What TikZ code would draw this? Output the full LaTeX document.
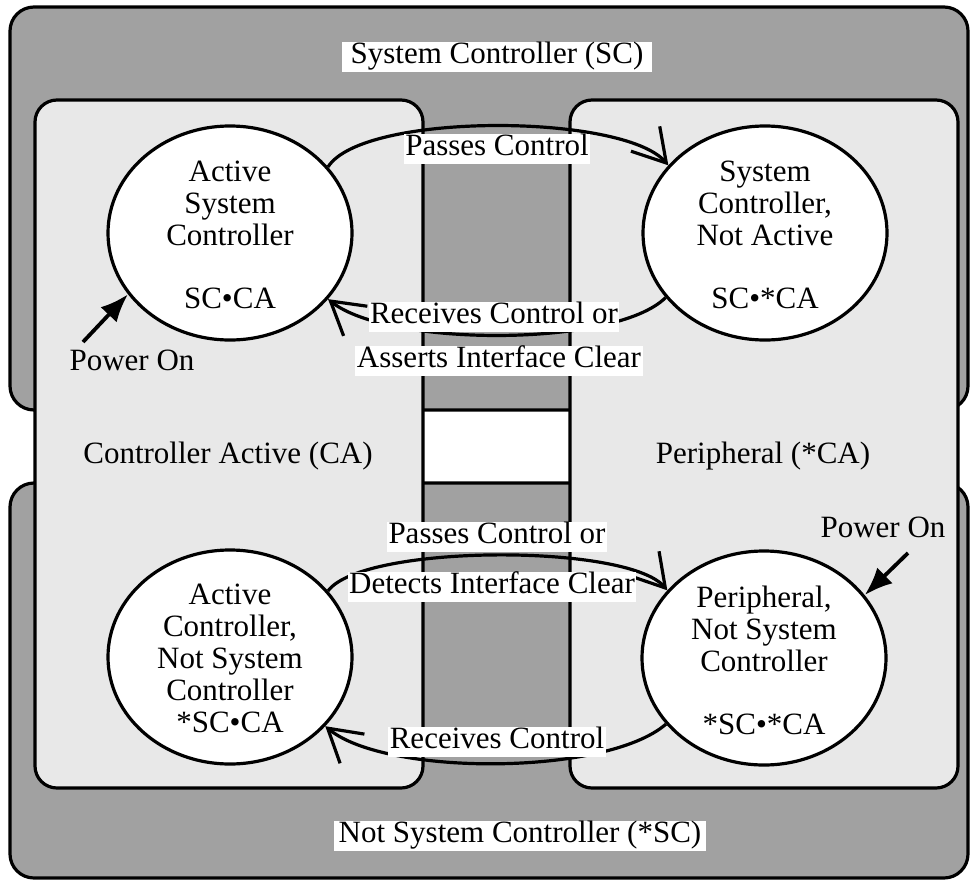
\documentclass[tikz,border=0pt]{standalone}
\usepackage{fontspec}
\setmainfont{Liberation Serif}
\usepackage{tikz}
\usetikzlibrary{shapes.geometric,arrows.meta}

\definecolor{scgray}{gray}{0.63}
\definecolor{cagray}{gray}{0.91}

\begin{document}
\begin{tikzpicture}[x=1pt,y=-1pt,font=\fontsize{31pt}{32pt}\selectfont,
  region/.style={draw,line width=3.2pt,rounded corners=24pt},
  state/.style={draw,ellipse,fill=white,line width=3.2pt,minimum width=244pt,minimum height=214pt,inner sep=0pt},
  tag/.style={fill=white,inner sep=1.5pt,text height=20pt,text depth=7pt,anchor=base},
  areatext/.style={inner sep=1.5pt,anchor=base},
  trans/.style={line width=3.2pt,-{Straight Barb[length=32pt,width=38pt]}},
  power/.style={line width=3.8pt,-{Latex[length=28pt,width=22pt]}}]
\useasboundingbox (0,0) rectangle (972,881);
%\draw[step=50,gray,very thin] (0,0) grid (972,881);

\draw[region,fill=scgray] (10,7) rectangle (968,410);
\draw[region,fill=scgray] (10,483) rectangle (968,878);
\draw[region,fill=cagray,rounded corners=22pt] (35,100) rectangle (423,788);
\draw[region,fill=cagray,rounded corners=22pt] (570,100) rectangle (958,788);

\node[state] (asc) at (230,233) {};
\node[state] (scna) at (765,233) {};
\node[state] (acnsc) at (230,657) {};
\node[state] (pnsc) at (764,658) {};

\node[align=center] (asc-txt) at (230,235) {Active\\System\\Controller\\[31pt]SC•CA};
\node[align=center] (scna-txt) at (765,235) {System\\Controller,\\Not Active\\[31pt]SC•*CA};
\node[align=center] (acnsc-txt) at (230,658) {Active\\Controller,\\Not System\\Controller\\*SC•CA};
\node[align=center] (pnsc-txt) at (764,660) {Peripheral,\\Not System\\Controller\\[31pt]*SC•*CA};

\draw[trans] (asc.34) .. controls +(35,-55) and +(-45,-52) .. (scna.145);
\draw[trans] (scna.213) .. controls +(-50,50) and +(60,48) .. (asc.326);
\draw[trans] (acnsc.34) .. controls +(35,-47) and +(-40,-47) .. (pnsc.145);
\draw[trans] (pnsc.214) .. controls +(-60,52) and +(60,50) .. (acnsc.324);

\coordinate (po-sc) at (83,342);
\coordinate (po-nsc) at (908,553);
\draw[power] (po-sc) -- (asc.211);
\draw[power] (po-nsc) -- (pnsc.32);

\node[tag,inner xsep=9pt] (sc-lbl) at (497,63) {System Controller (SC)};
\node[tag,inner xsep=5pt] (nsc-lbl) at (520,842) {Not System Controller (*SC)};
\node[areatext] (ca-lbl) at (228,463) {Controller Active (CA)};
\node[areatext] (nca-lbl) at (763,463) {Peripheral (*CA)};

\node[tag] (pc) at (497,155) {Passes Control};
\node[tag] (rc1) at (494,323) {Receives Control or};
\node[tag] (rc2) at (499,367) {Asserts Interface Clear};
\node[tag] (pco1) at (497,543) {Passes Control or};
\node[tag] (pco2) at (492,593) {Detects Interface Clear};
\node[tag] (rc) at (497,748) {Receives Control};

\node[areatext] (po-sc-lbl) at (132,370) {Power On};
\node[areatext] (po-nsc-lbl) at (883,537) {Power On};

\end{tikzpicture}
\end{document}
